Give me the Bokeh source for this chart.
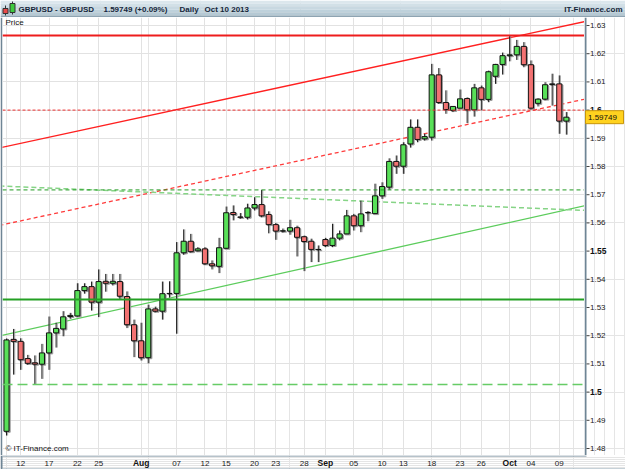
from bokeh.plotting import figure
from bokeh.models import Range1d, FixedTicker, Label, Span, Grid
from bokeh.layouts import column, row
from bokeh.embed import file_html
from bokeh.resources import INLINE
from bokeh.core.properties import value

FONT = "Liberation Sans"

# ---------------- data (daily bars, Jul 10 2013 - Oct 10 2013, incl. Sunday bars) ----------------
opens = [1.4861, 1.5187, 1.5180, 1.5119, 1.5104, 1.5099, 1.5139, 1.5210, 1.5224, 1.5268,
         1.5270, 1.5360, 1.5374, 1.5319, 1.5393, 1.5386, 1.5392, 1.5339, 1.5239, 1.5182,
         1.5122, 1.5295, 1.5287, 1.5349, 1.5350, 1.5494, 1.5535, 1.5501, 1.5508, 1.5455,
         1.5446, 1.5510, 1.5637, 1.5621, 1.5620, 1.5653, 1.5665, 1.5630, 1.5594, 1.5571,
         1.5571, 1.5583, 1.5551, 1.5535, 1.5505, 1.5541, 1.5520, 1.5546, 1.5561, 1.5625,
         1.5590, 1.5636, 1.5633, 1.5696, 1.5727, 1.5818, 1.5801, 1.5880, 1.5939, 1.5898,
         1.5904, 1.6125, 1.6027, 1.5999, 1.6007, 1.6041, 1.6001, 1.6079, 1.6038, 1.6120,
         1.6162, 1.6193, 1.6196, 1.6226, 1.6161, 1.6024, 1.6039, 1.6091, 1.6093, 1.5961]
highs = [1.5190, 1.5224, 1.5191, 1.5132, 1.5130, 1.5171, 1.5268, 1.5246, 1.5287, 1.5281,
         1.5386, 1.5386, 1.5392, 1.5435, 1.5419, 1.5419, 1.5419, 1.5357, 1.5257, 1.5246,
         1.5310, 1.5303, 1.5392, 1.5393, 1.5532, 1.5577, 1.5561, 1.5514, 1.5514, 1.5467,
         1.5547, 1.5658, 1.5662, 1.5635, 1.5668, 1.5691, 1.5717, 1.5641, 1.5600, 1.5580,
         1.5611, 1.5590, 1.5555, 1.5544, 1.5520, 1.5547, 1.5597, 1.5573, 1.5646, 1.5632,
         1.5679, 1.5642, 1.5739, 1.5744, 1.5829, 1.5839, 1.5886, 1.5967, 1.5967, 1.5916,
         1.6164, 1.6149, 1.6070, 1.6013, 1.6073, 1.6045, 1.6093, 1.6087, 1.6140, 1.6164,
         1.6204, 1.6265, 1.6249, 1.6241, 1.6176, 1.6042, 1.6099, 1.6129, 1.6123, 1.5993]
lows = [1.4846, 1.5062, 1.5079, 1.5097, 1.5027, 1.5047, 1.5079, 1.5158, 1.5198, 1.5260,
        1.5268, 1.5349, 1.5289, 1.5266, 1.5356, 1.5378, 1.5328, 1.5227, 1.5124, 1.5112,
        1.5102, 1.5283, 1.5257, 1.5335, 1.5207, 1.5487, 1.5495, 1.5499, 1.5451, 1.5435,
        1.5422, 1.5508, 1.5609, 1.5615, 1.5612, 1.5644, 1.5620, 1.5563, 1.5540, 1.5566,
        1.5558, 1.5481, 1.5429, 1.5461, 1.5461, 1.5514, 1.5514, 1.5538, 1.5561, 1.5573,
        1.5567, 1.5606, 1.5633, 1.5685, 1.5717, 1.5774, 1.5774, 1.5867, 1.5886, 1.5892,
        1.5892, 1.6022, 1.5987, 1.5993, 1.6007, 1.5954, 1.5977, 1.5999, 1.6028, 1.6093,
        1.6126, 1.6173, 1.6178, 1.6152, 1.6002, 1.6013, 1.6035, 1.6016, 1.5916, 1.5913]
closes = [1.5185, 1.5180, 1.5115, 1.5102, 1.5099, 1.5139, 1.5210, 1.5226, 1.5267, 1.5272,
          1.5360, 1.5374, 1.5319, 1.5392, 1.5386, 1.5393, 1.5340, 1.5239, 1.5182, 1.5122,
          1.5295, 1.5287, 1.5349, 1.5350, 1.5494, 1.5535, 1.5498, 1.5508, 1.5455, 1.5448,
          1.5512, 1.5636, 1.5630, 1.5620, 1.5653, 1.5665, 1.5625, 1.5594, 1.5571, 1.5572,
          1.5583, 1.5549, 1.5534, 1.5506, 1.5506, 1.5520, 1.5546, 1.5561, 1.5625, 1.5590,
          1.5632, 1.5637, 1.5696, 1.5729, 1.5818, 1.5801, 1.5877, 1.5939, 1.5896, 1.5906,
          1.6125, 1.6027, 1.6002, 1.6013, 1.6040, 1.6001, 1.6079, 1.6038, 1.6136, 1.6162,
          1.6193, 1.6196, 1.6226, 1.6161, 1.6007, 1.6039, 1.6090, 1.6093, 1.5961, 1.59749]
bars = list(range(len(opens)))

x_tick_pos = [2, 6, 10, 13, 19, 24, 28, 31, 35, 38, 42, 45, 49, 53, 56, 60, 64, 67, 71, 74, 78]
x_tick_labels = ["12", "17", "22", "25", "Aug", "07", "12", "15", "20", "23", "28", "Sep",
                 "05", "10", "13", "18", "23", "26", "Oct", "04", "09"]
month_labels = ["Aug", "Sep", "Oct"]

y_ticks = [1.48, 1.49, 1.50, 1.51, 1.52, 1.53, 1.54, 1.55, 1.56, 1.57, 1.58, 1.59, 1.60, 1.61, 1.62, 1.63]
y_tick_labels = ["1.48", "1.49", "1.5", "1.51", "1.52", "1.53", "1.54", "1.55", "1.56", "1.57",
                 "1.58", "1.59", "1.6", "1.61", "1.62", "1.63"]
y_bold_labels = ["1.5", "1.55", "1.6"]

# horizontal levels
red_level = 1.6265
red_dash_level = 1.6000
green_dash_level = 1.5717
green_level = 1.5328
green_longdash_level = 1.5027

# trend lines: anchor bars and prices
trend_bars = [-1, 82]
red_trend = [1.5866, 1.6316]
red_dash_trend = [1.5591, 1.6041]
green_trend = [1.5199, 1.5663]
green_dash_trend = [1.5731, 1.5644]

last_price = 1.59749
header_symbol = "GBPUSD - GBPUSD"
header_quote = "1.59749 (+0.09%)"
header_period = "Daily"
header_date = "Oct 10 2013"
brand = "IT-Finance.com"

# ---------------- geometry ----------------
W = 625
HEAD_H = 17
MAIN_W = 584
AX_W = W - MAIN_W
MAIN_H = 438
BOT_H = 469 - HEAD_H - MAIN_H
X0, X1 = -0.564, 81.56
Y0, Y1 = 1.47752, 1.63284
x_px = (X1 - X0) / (MAIN_W - 2)
FRAME_COL = "#6f8595"

# ---------------- header ----------------
hdr = figure(width=W, height=HEAD_H, x_range=Range1d(0, W), y_range=Range1d(HEAD_H, 0),
             toolbar_location=None, output_backend="svg", min_border=0,
             x_axis_location=None, y_axis_location=None)
hdr.outline_line_color = None
band_top = [0, 3, 6, 9, 12, 15]
band_bot = [3, 6, 9, 12, 15, 17]
band_col = ["#dce7ed", "#d2e0e7", "#c8d8e1", "#bed1db", "#b5c9d4", "#8ea4b2"]
hdr.quad(left=0, right=W, top=band_top, bottom=band_bot, fill_color=band_col, line_color=None)
hdr.segment(x0=[5, 12], y0=[5, 1], x1=[5, 12], y1=[15, 14], line_color="#333333", line_width=1)
hdr.quad(left=[2.5, 9.5], right=[7.5, 14.5], top=[8, 3], bottom=[13, 12],
         fill_color=["#e84a4a", "#3ec93e"], line_color="#333333", line_width=1)
hdr.text(x=[18, 103, 179, 204], y=[8.5] * 4,
         text=[header_symbol, header_quote, header_period, header_date],
         text_font=value(FONT), text_font_size="8px", text_font_style="bold",
         text_color="#16263a", text_baseline="middle", text_align="left")
hdr.text(x=[622], y=[8.5], text=[brand], text_font=value(FONT), text_font_size="8px",
         text_font_style="bold", text_color="#16263a", text_baseline="middle", text_align="right")

# ---------------- main chart ----------------
p = figure(width=MAIN_W, height=MAIN_H, x_range=Range1d(X0, X1), y_range=Range1d(Y0, Y1),
           toolbar_location=None, output_backend="svg",
           x_axis_location=None, y_axis_location=None,
           min_border_left=2, min_border_right=0, min_border_top=0, min_border_bottom=0)
p.background_fill_color = "white"
p.border_fill_color = FRAME_COL
p.outline_line_color = None

p.add_layout(Grid(dimension=0, ticker=FixedTicker(ticks=x_tick_pos), grid_line_color="#e2e2e2"))
p.add_layout(Grid(dimension=1, ticker=FixedTicker(ticks=y_ticks), grid_line_color="#e2e2e2"))

# level lines
p.add_layout(Span(location=red_level, dimension="width", line_color="#ee1c1c", line_width=2))
p.add_layout(Span(location=red_dash_level, dimension="width", line_color="#ee3030", line_width=1,
                  line_dash="3 2"))
p.add_layout(Span(location=green_dash_level, dimension="width", line_color="#229a22", line_width=1,
                  line_dash="4 3"))
p.add_layout(Span(location=green_level, dimension="width", line_color="#24a024", line_width=2))
p.add_layout(Span(location=green_longdash_level, dimension="width", line_color="#66cc66", line_width=1.5,
                  line_dash="10 5"))

# trend lines
p.line(trend_bars, red_trend, line_color="#ff2020", line_width=1.3)
p.line(trend_bars, red_dash_trend, line_color="#ff3b3b", line_width=1.3, line_dash="4 3")
p.line(trend_bars, green_trend, line_color="#5ccc5c", line_width=1.3)
p.line(trend_bars, green_dash_trend, line_color="#86d486", line_width=1.5, line_dash="5 3")

# candles
up = [c >= o for o, c in zip(opens, closes)]
tops = [max(o, c) for o, c in zip(opens, closes)]
bots = [min(o, c) for o, c in zip(opens, closes)]
cols = ["#58e058" if u else "#f27272" for u in up]
y_px = (Y1 - Y0) / MAIN_H
sx = [b + 0.16 for b in bars]
p.segment(x0=sx, y0=highs, x1=sx, y1=lows, line_color="#a0a0a0", line_width=1)
p.vbar(x=sx, width=0.72, top=[t - y_px for t in tops], bottom=[b - y_px for b in bots],
       fill_color="#9a9a9a", line_color="#9a9a9a", line_width=1)
p.segment(x0=bars, y0=highs, x1=bars, y1=lows, line_color="#1e1e1e", line_width=1)
p.vbar(x=bars, width=0.72, top=tops, bottom=bots, fill_color=cols, line_color="#111111", line_width=1)

p.add_layout(Label(x=3, y=MAIN_H - 5, x_units="screen", y_units="screen", text="Price",
                   text_align="left", text_baseline="middle",
                   text_font=FONT, text_font_size="8px", text_color="#111111"))
p.add_layout(Label(x=3, y=7, x_units="screen", y_units="screen", text="\u00a9 " + brand,
                   text_align="left", text_baseline="middle", text_font=FONT, text_font_size="8px",
                   text_color="#111111"))

# ---------------- right price axis ----------------
r = figure(width=AX_W, height=MAIN_H, x_range=Range1d(0, AX_W), y_range=p.y_range,
           toolbar_location=None, output_backend="svg", min_border=0,
           x_axis_location=None, y_axis_location=None)
r.outline_line_color = None
r.background_fill_color = "white"
r.quad(left=0, right=2, top=Y1, bottom=Y0, fill_color=FRAME_COL, line_color=None)
r.segment(x0=[2] * len(y_ticks), y0=y_ticks, x1=[5] * len(y_ticks), y1=y_ticks,
          line_color="#444444", line_width=1)
norm = [(t, l) for t, l in zip(y_ticks, y_tick_labels) if l not in y_bold_labels]
bold = [(t, l) for t, l in zip(y_ticks, y_tick_labels) if l in y_bold_labels]
r.text(x=[5.5] * len(norm), y=[t for t, _ in norm], text=[l for _, l in norm],
       text_font=value(FONT), text_font_size="8px", text_color="#222222",
       text_baseline="middle", text_align="left")
r.text(x=[5.5] * len(bold), y=[t for t, _ in bold], text=[l for _, l in bold],
       text_font=value(FONT), text_font_size="8.5px", text_font_style="bold", text_color="#111111",
       text_baseline="middle", text_align="left")
r.rect(x=[20], y=[last_price], width=[38], height=[13], height_units="screen",
       fill_color="#ffd21f", line_color="#c8950a", line_width=1)
r.text(x=[3.5], y=[last_price], text=["%.5f" % last_price], text_font=value(FONT),
       text_font_size="8px", text_color="#111111", text_baseline="middle", text_align="left")

# ---------------- bottom date axis ----------------
b = figure(width=W, height=BOT_H, x_range=Range1d(X0 - 2 * x_px, X1 + AX_W * x_px),
           y_range=Range1d(BOT_H, 0), toolbar_location=None, output_backend="svg", min_border=0,
           x_axis_location=None, y_axis_location=None)
b.outline_line_color = None
b.background_fill_color = "white"
b.quad(left=X0 - 2 * x_px, right=X0, top=0, bottom=BOT_H, fill_color=FRAME_COL, line_color=None)
b.quad(left=X0, right=X1 + 2 * x_px, top=0, bottom=1, fill_color=FRAME_COL, line_color=None)
b.quad(left=X0, right=X1 + AX_W * x_px, top=BOT_H - 1, bottom=BOT_H, fill_color="#8ea4b2", line_color=None)
xn = [(t, l) for t, l in zip(x_tick_pos, x_tick_labels) if l not in month_labels]
xb = [(t, l) for t, l in zip(x_tick_pos, x_tick_labels) if l in month_labels]
b.text(x=[t for t, _ in xn], y=[7.5] * len(xn), text=[l for _, l in xn], text_font=value(FONT),
       text_font_size="8px", text_color="#222222", text_baseline="middle", text_align="center")
b.text(x=[t for t, _ in xb], y=[7.5] * len(xb), text=[l for _, l in xb], text_font=value(FONT),
       text_font_size="8.5px", text_font_style="bold", text_color="#111111",
       text_baseline="middle", text_align="center")

layout = column(hdr, row(p, r, spacing=0), b, spacing=0)
open("out.html", "w").write(file_html(layout, INLINE))
